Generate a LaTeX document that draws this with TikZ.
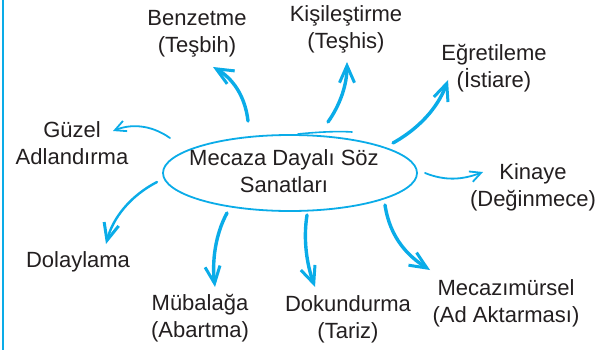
\documentclass[tikz,border=0pt]{standalone}
\usepackage{fontspec}
\setmainfont{Liberation Sans}
\usetikzlibrary{arrows.meta,shapes.geometric}
\definecolor{cb}{RGB}{10,172,232}
\definecolor{tx}{RGB}{35,31,32}
\tikzset{
  lbl/.style={align=center,text=tx,font=\fontsize{22}{27}\selectfont,inner sep=0pt},
  thickarr/.style={draw=cb,line width=3.4pt,line cap=round,-{Straight Barb[length=17pt,width=15pt,line width=3pt]}},
  thinarr/.style={draw=cb,line width=1.8pt,line cap=round,-{Straight Barb[length=11pt,width=11pt,line width=1.8pt]}}
}
\begin{document}
\begin{tikzpicture}[x=1pt,y=-1pt]
\useasboundingbox (0,0) rectangle (607,350);
\fill[white] (0,0) rectangle (607,350);
\draw[cb,line width=2pt] (3,0) -- (3,350);
% centre
\node[ellipse,draw=cb,line width=1.8pt,minimum width=254pt,minimum height=76pt,inner sep=0pt] (c) at (290,173) {};
\draw[cb,line width=1.6pt,line cap=round] (298,134) .. controls (318,132) and (338,131) .. (352,132);
\node[lbl] (ct) at (284,171) {Mecaza Dayalı Söz\\Sanatları};
% labels
\node[lbl] (benz) at (197,34) {Benzetme\\(Teşbih)};
\node[lbl] (kisi) at (346,29) {Kişileştirme\\(Teşhis)};
\node[lbl] (egre) at (494,68) {Eğretileme\\(İstiare)};
\node[lbl] (guz) at (72,143) {Güzel\\Adlandırma};
\node[lbl] (kin) at (533,187) {Kinaye\\(Değinmece)};
\node[lbl] (dol) at (78,262) {Dolaylama};
\node[lbl] (mub) at (200,318) {Mübalağa\\(Abartma)};
\node[lbl] (dok) at (348,319) {Dokundurma\\(Tariz)};
\node[lbl] (mec) at (506,303) {Mecazımürsel\\(Ad Aktarması)};
% tails and tips
\coordinate (s1) at (248,121); \coordinate (e1) at (213,67);
\coordinate (s2) at (328,122); \coordinate (e2) at (347,62);
\coordinate (s3) at (393,143); \coordinate (e3) at (448,80);
\coordinate (s4) at (425,173); \coordinate (e4) at (483,172);
\coordinate (s5) at (385,205); \coordinate (e5) at (430,270);
\coordinate (s6) at (307,215); \coordinate (e6) at (315,287);
\coordinate (s7) at (227,213); \coordinate (e7) at (215,287);
\coordinate (s8) at (157,182); \coordinate (e8) at (106,244);
\coordinate (s9) at (170,138); \coordinate (e9) at (113,131);
\draw[thickarr] (s1) .. controls (245,95) and (232,78) .. (e1);
\draw[thickarr] (s2) .. controls (340,105) and (347,85) .. (e2);
\draw[thickarr] (s3) .. controls (425,125) and (440,102) .. (e3);
\draw[thinarr] (s4) .. controls (445,181) and (462,180) .. (e4);
\draw[thickarr] (s5) .. controls (390,238) and (408,256) .. (e5);
\draw[thickarr] (s6) .. controls (303,240) and (307,265) .. (e6);
\draw[thickarr] (s7) .. controls (215,235) and (212,262) .. (e7);
\draw[thickarr,line width=2.4pt] (s8) .. controls (130,196) and (113,218) .. (e8);
\draw[thinarr] (s9) .. controls (150,124) and (130,124) .. (e9);
\end{tikzpicture}
\end{document}
